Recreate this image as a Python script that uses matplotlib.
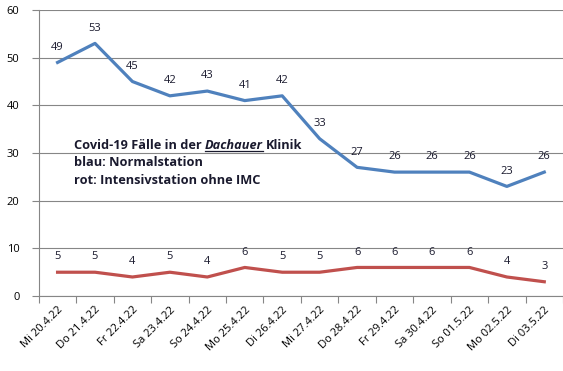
import matplotlib
matplotlib.use('Agg')
import matplotlib.pyplot as plt

dates = ['Mi 20.4.22', 'Do 21.4.22', 'Fr 22.4.22', 'Sa 23.4.22', 'So 24.4.22',
         'Mo 25.4.22', 'Di 26.4.22', 'Mi 27.4.22', 'Do 28.4.22', 'Fr 29.4.22',
         'Sa 30.4.22', 'So 01.5.22', 'Mo 02.5.22', 'Di 03.5.22']
normal = [49, 53, 45, 42, 43, 41, 42, 33, 27, 26, 26, 26, 23, 26]
intensiv = [5, 5, 4, 5, 4, 6, 5, 5, 6, 6, 6, 6, 4, 3]

BLUE = '#4F81BD'
RED = '#C0504D'
GRID = '#868686'
TXT = '#1a1a2e'
FONT = 'Open Sans'

fig = plt.figure(figsize=(5.63, 3.71), dpi=100)
ax = fig.add_axes([0.069, 0.202, 0.931, 0.771])

x = list(range(len(dates)))
ax.plot(x, normal, color=BLUE, lw=2.3, solid_joinstyle='round')
ax.plot(x, intensiv, color=RED, lw=2.3, solid_joinstyle='round')

for series in (normal, intensiv):
    for xi, v in zip(x, series):
        ax.annotate(str(v), (xi, v), xytext=(0, 7), textcoords='offset points',
                    ha='center', va='bottom', fontsize=8, family=FONT, color=TXT)

ax.set_xlim(-0.5, len(dates) - 0.5)
ax.set_ylim(0, 60)
ax.set_yticks(range(0, 61, 10))
ax.yaxis.grid(True, color=GRID, lw=0.8)
ax.set_axisbelow(True)
ax.set_xticks([i - 0.5 for i in range(len(dates) + 1)], minor=False)
ax.set_xticklabels([])
ax.set_xticks(x, minor=True)
ax.set_xticklabels(dates, minor=True, rotation=45, ha='right', va='top',
                   rotation_mode='anchor', fontsize=8, family=FONT)
ax.tick_params(axis='x', which='major', length=5, color=GRID, direction='out')
ax.tick_params(axis='x', which='minor', length=0, pad=6)
ax.tick_params(axis='y', length=5, color=GRID, labelsize=8, pad=9)
for lbl in ax.get_yticklabels():
    lbl.set_family(FONT)
for side in ['top', 'right']:
    ax.spines[side].set_visible(False)
for side in ['left', 'bottom']:
    ax.spines[side].set_color(GRID)

# annotation with italic underlined word
fig.canvas.draw()
r = fig.canvas.get_renderer()
tx, ty = 74 / 563, 1 - 145 / 371
kw = dict(fontsize=9.2, family=FONT, fontweight='bold', color=TXT, va='center')
t1 = fig.text(tx, ty, 'Covid-19 Fälle in der ', **kw)
bb = t1.get_window_extent(r)
t2 = fig.text(bb.x1 / 563, ty, 'Dachauer', style='italic', **kw)
bb2 = t2.get_window_extent(r)
fig.text(bb2.x1 / 563 + 0.004, ty, 'Klinik', **kw)
fig.add_artist(plt.Line2D([bb2.x0 / 563, bb2.x1 / 563],
                          [(bb2.y0 + 1) / 371] * 2, color=TXT, lw=0.9))
fig.text(tx, 1 - 163 / 371, 'blau: Normalstation', **kw)
fig.text(tx, 1 - 181 / 371, 'rot: Intensivstation ohne IMC', **kw)

fig.savefig('out.png', dpi=100)
